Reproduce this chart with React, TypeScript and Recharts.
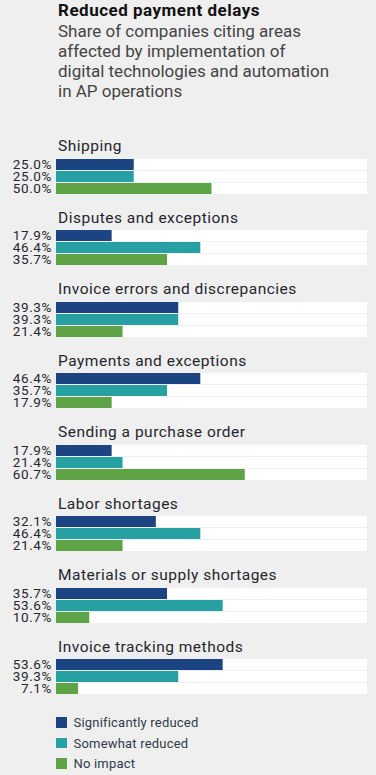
import { BarChart, Bar, XAxis, YAxis, Cell, LabelList } from 'recharts';

const categories = [
  'Shipping',
  'Disputes and exceptions',
  'Invoice errors and discrepancies',
  'Payments and exceptions',
  'Sending a purchase order',
  'Labor shortages',
  'Materials or supply shortages',
  'Invoice tracking methods',
];

const significantlyReduced = [25.0, 17.9, 39.3, 46.4, 17.9, 32.1, 35.7, 53.6];
const somewhatReduced = [25.0, 46.4, 39.3, 35.7, 21.4, 46.4, 53.6, 39.3];
const noImpact = [50.0, 35.7, 21.4, 17.9, 60.7, 21.4, 10.7, 7.1];

const seriesNames = ['Significantly reduced', 'Somewhat reduced', 'No impact'];
const colors = ['#1d4482', '#27a0a4', '#5ea447'];

const font = 'Roboto, sans-serif';
const textColor = '#26262e';

function GroupChart({ index }: { index: number }) {
  const rows = [
    { name: seriesNames[0], value: significantlyReduced[index] },
    { name: seriesNames[1], value: somewhatReduced[index] },
    { name: seriesNames[2], value: noImpact[index] },
  ];
  return (
    <div style={{ position: 'absolute', left: 0, top: 136 + index * 71.57, width: 376 }}>
      <div
        style={{
          marginLeft: 58,
          height: 19.5,
          lineHeight: '21.5px',
          fontSize: 15.5,
          letterSpacing: 0.5,
          color: textColor,
          whiteSpace: 'nowrap',
        }}
      >
        {categories[index]}
      </div>
      <BarChart
        width={376}
        height={40}
        data={rows}
        layout="vertical"
        margin={{ top: 2, right: 9, bottom: 2, left: 56 }}
        barCategoryGap={1}
        style={{ overflow: 'visible' }}
      >
        <XAxis type="number" domain={[0, 100]} hide />
        <YAxis type="category" dataKey="name" hide />
        <Bar dataKey="value" barSize={11} background={{ fill: '#ffffff' }} isAnimationActive={false}>
          {rows.map((r, i) => (
            <Cell key={r.name} fill={colors[i]} />
          ))}
          <LabelList
            dataKey="value"
            position="left"
            offset={4}
            formatter={(v: number) => `${v.toFixed(1)}%`}
            style={{ fill: textColor, fontSize: 13.5, letterSpacing: 0.6, fontFamily: font }}
          />
        </Bar>
      </BarChart>
    </div>
  );
}

export default function App() {
  return (
    <div
      style={{
        position: 'absolute',
        left: 0,
        top: 0,
        width: 376,
        height: 775,
        background: '#efefef',
        fontFamily: font,
        overflow: 'hidden',
      }}
    >
      <div style={{ position: 'absolute', left: 58, top: 0, width: 316 }}>
        <div style={{ fontSize: 17, fontWeight: 700, lineHeight: '20px', letterSpacing: 0.5, color: '#111' }}>
          Reduced payment delays
        </div>
        <div style={{ marginTop: 1, fontSize: 17, lineHeight: '20px', color: '#444', whiteSpace: 'nowrap' }}>
          Share of companies citing areas
          <br />
          affected by implementation of
          <br />
          digital technologies and automation
          <br />
          in AP operations
        </div>
      </div>
      {categories.map((c, i) => (
        <GroupChart key={c} index={i} />
      ))}
      <div style={{ position: 'absolute', left: 56, top: 712 }}>
        {seriesNames.map((s, i) => (
          <div key={s} style={{ display: 'flex', alignItems: 'center', height: 20.7 }}>
            <div style={{ width: 10.5, height: 10.5, background: colors[i], marginRight: 7 }} />
            <span style={{ fontSize: 13, letterSpacing: 0.2, color: '#2f3b4c' }}>{s}</span>
          </div>
        ))}
      </div>
    </div>
  );
}
